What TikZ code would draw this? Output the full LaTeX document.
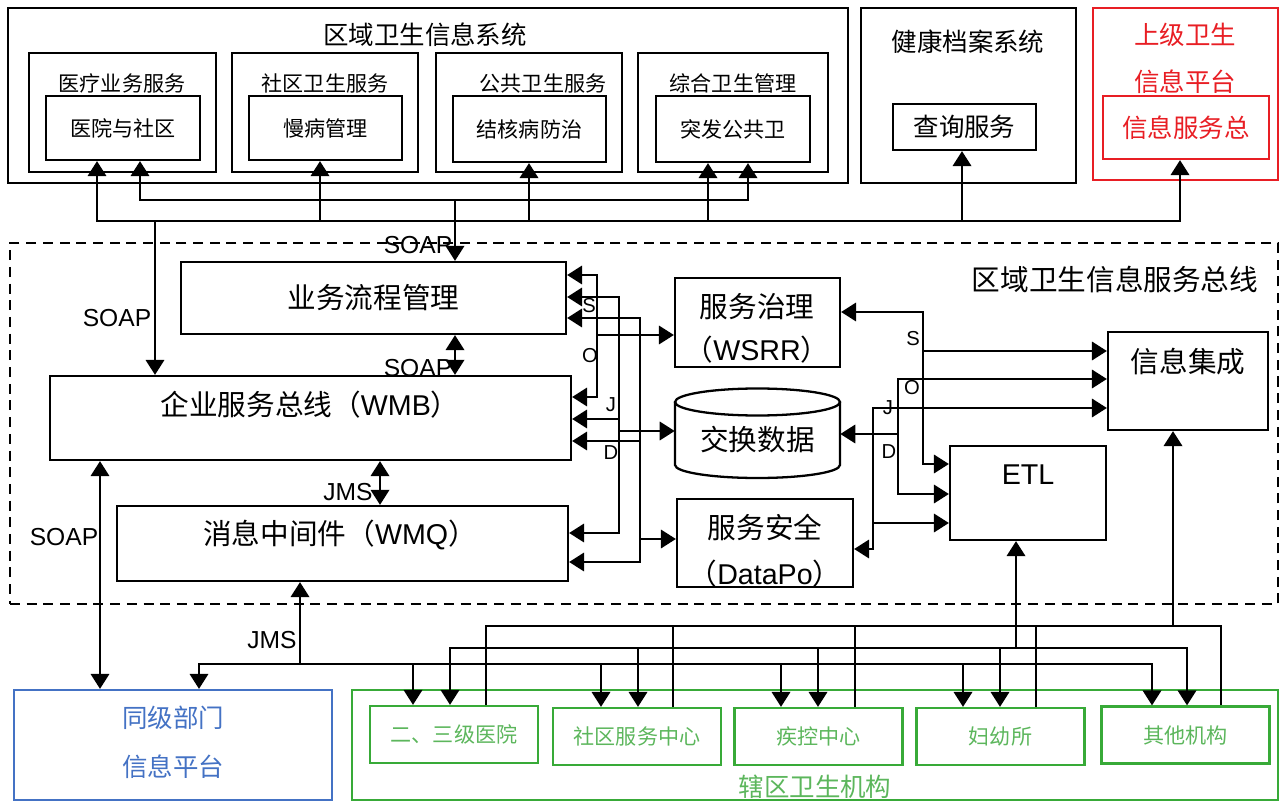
\documentclass[tikz,border=0pt]{standalone}
\usepackage{fontspec}
\setmainfont{Liberation Sans}
\newfontfamily\cjk{Noto Sans CJK SC}
\usepackage{tikz}
\usetikzlibrary{arrows.meta, positioning, calc}
\definecolor{UpperRed}{RGB}{232,30,36}
\definecolor{PeerBlue}{RGB}{68,114,196}
\definecolor{OrgGreen}{RGB}{56,170,56}
\definecolor{OrgText}{RGB}{92,182,92}
\tikzstyle{arrow} = [line width=1.2pt, -{Triangle[length=8.5pt,width=10.5pt]}]
\tikzstyle{twoway} = [line width=1.2pt, {Triangle[length=8.5pt,width=10.5pt]}-{Triangle[length=8.5pt,width=10.5pt]}]
\tikzstyle{wire} = [line width=1.2pt]
\tikzset{
  box/.style 2 args={draw, line width=1.3pt, rectangle, inner sep=0pt, minimum width=#1*0.02cm, minimum height=#2*0.02cm},
  txs/.style={font=\cjk\fontsize{12}{14}\selectfont},
  txm/.style={font=\cjk\fontsize{14.5}{17}\selectfont},
  txl/.style={font=\cjk\fontsize{16.3}{19}\selectfont},
  proto/.style={font=\fontsize{14}{16}\selectfont, inner sep=0pt},
  tag/.style={font=\fontsize{11.5}{13}\selectfont, inner sep=0pt}
}
\begin{document}
\begin{tikzpicture}[x=0.02cm, y=-0.02cm]
    \useasboundingbox (0,0) rectangle (1283,803);

    % Regional health information system
    \node[box={840}{175}] (regsys) at (428,95.5) {};
    \node[txm] (regsys-t) at (425,35) {区域卫生信息系统};
    \node[box={187}{119}] (med) at (122.5,112.5) {};
    \node[txs] (med-t) at (122,83) {医疗业务服务};
    \node[box={154}{64}, txs] (hosp) at (123,128) {医院与社区};
    \node[box={186}{119}] (comm) at (325,112.5) {};
    \node[txs] (comm-t) at (325,83) {社区卫生服务};
    \node[box={153}{64}, txs] (chron) at (325.5,128) {慢病管理};
    \node[box={186}{119}] (pub) at (529,112.5) {};
    \node[txs] (pub-t) at (543,83) {公共卫生服务};
    \node[box={153}{66}, txs] (tb) at (529.5,129) {结核病防治};
    \node[box={190}{119}] (gen) at (733,112.5) {};
    \node[txs] (gen-t) at (733,83) {综合卫生管理};
    \node[box={154}{66}, txs] (emerg) at (733,129) {突发公共卫};

    % Health record system and upper platform
    \node[box={215}{175}] (ehr) at (968.5,95.5) {};
    \node[txm] (ehr-t) at (968,42) {健康档案系统};
    \node[box={143}{46}, txm] (query) at (964.5,127) {查询服务};
    \node[box={185}{172}, draw=UpperRed] (upper) at (1185.5,94) {};
    \node[txm, text=UpperRed] (upper-t1) at (1185,35) {上级卫生};
    \node[txm, text=UpperRed] (upper-t2) at (1185,82) {信息平台};
    \node[box={166}{63}, draw=UpperRed, txm, text=UpperRed] (infobus) at (1186,127.5) {信息服务总};

    % Regional health information service bus
    \node[box={1268}{361}, line width=1.1pt, dash pattern=on 5.7pt off 3.8pt] (esb) at (644,423.5) {};
    \node[txl] (esb-t) at (1115,280) {区域卫生信息服务总线};
    \node[box={385}{72}, txl] (bpm) at (373.5,298) {业务流程管理};
    \node[box={521}{84}] (wmb) at (310.5,418) {};
    \node[txl] (wmb-t) at (310,405) {企业服务总线（{\rmfamily WMB}）};
    \node[box={451}{75}] (wmq) at (342.5,543.5) {};
    \node[txl] (wmq-t) at (340,535) {消息中间件（{\rmfamily WMQ}）};
    \node[box={165}{89}] (wsrr) at (757.5,322.5) {};
    \node[txl] (wsrr-t1) at (757,307) {服务治理};
    \node[txl] (wsrr-t2) at (757,350) {（{\rmfamily WSRR}）};
    \node[txl, inner sep=0pt, minimum width=3.3cm] (xdata) at (757.5,440) {交换数据};
    \draw[line width=1.3pt] (675,402) -- (675,465) arc[start angle=180, end angle=360, x radius=1.65cm, y radius=0.26cm] -- (840,402);
    \draw[line width=1.3pt] (757.5,402) ellipse[x radius=1.65cm, y radius=0.27cm];
    \node[box={176}{88}] (sec) at (765,543) {};
    \node[txl] (sec-t1) at (765,527) {服务安全};
    \node[txl] (sec-t2) at (765,574) {（{\rmfamily DataPo}）};
    \node[box={160}{98}] (integ) at (1188,381) {};
    \node[txl] (integ-t) at (1188,362) {信息集成};
    \node[box={156}{94}] (etl) at (1028,493) {};
    \node[font=\fontsize{16.3}{19}\selectfont] (etl-t) at (1028,475) {ETL};

    % Peer platform and local institutions
    \node[box={318}{110}, draw=PeerBlue] (peer) at (173,745) {};
    \node[txm, text=PeerBlue] (peer-t1) at (173,718) {同级部门};
    \node[txm, text=PeerBlue] (peer-t2) at (173,767) {信息平台};
    \node[box={926}{110}, draw=OrgGreen] (juris) at (815,745) {};
    \node[txm, text=OrgText] (juris-t) at (815,787) {辖区卫生机构};
    \foreach \n/\cx/\cy/\t in {h23/454/734.5/二、三级医院, csc/637/736.5/社区服务中心, cdc/818.5/736.5/疾控中心, mch/1000.5/736.5/妇幼所, other/1185.5/735/其他机构}
        \node[box={168}{57}, draw=OrgGreen, txs, text=OrgText] (\n) at (\cx,\cy) {\t};

    % Top buses to the systems
    \coordinate (busA-w) at (97,221);
    \coordinate (busA-e) at (1180,221);
    \draw[twoway] (busA-w |- hosp.south) -- (busA-w) -- (busA-e) -- (busA-e |- infobus.south);
    \foreach \x/\t in {320/chron, 529/tb, 708/emerg, 962/query} {
        \coordinate (p) at (\x,221);
        \draw[arrow] (p) -- (p |- \t.south);
    }
    \coordinate (busB-w) at (140,200);
    \coordinate (busB-e) at (748,200);
    \draw[twoway] (busB-w |- hosp.south) -- (busB-w) -- (busB-e) -- (busB-e |- emerg.south);
    \coordinate (soap-bpm) at (455,200);
    \draw[arrow] (soap-bpm) -- (soap-bpm |- bpm.north);
    \coordinate (soap-wmb) at (155,221);
    \draw[arrow] (soap-wmb) -- (soap-wmb |- wmb.north);

    % Links inside the bus
    \coordinate (bw) at (455,350);
    \draw[twoway] (bw |- bpm.south) -- (bw |- wmb.north);
    \coordinate (mq) at (380,480);
    \draw[twoway] (mq |- wmb.south) -- (mq |- wmq.north);
    \coordinate (pr) at (100,600);
    \draw[twoway] (pr |- wmb.south) -- (pr |- peer.north);

    % S / O / J / D bars on the left
    \coordinate (b1t) at (597,275); \coordinate (b1b) at (597,397); \coordinate (b1m) at (597,335);
    \draw[twoway] (bpm.east |- b1t) -- (b1t) -- (b1b) -- (wmb.east |- b1b);
    \draw[arrow] (b1m) -- (wsrr.west |- b1m);
    \coordinate (b2t) at (619,297); \coordinate (b2b) at (619,533); \coordinate (b2w) at (619,419); \coordinate (b2m) at (619,431);
    \draw[twoway] (bpm.east |- b2t) -- (b2t) -- (b2b) -- (wmq.east |- b2b);
    \draw[arrow] (b2w) -- (wmb.east |- b2w);
    \draw[arrow] (b2m) -- (xdata.west |- b2m);
    \coordinate (b3t) at (640,318); \coordinate (b3b) at (640,562); \coordinate (b3w) at (640,441); \coordinate (b3m) at (640,539);
    \draw[twoway] (bpm.east |- b3t) -- (b3t) -- (b3b) -- (wmq.east |- b3b);
    \draw[arrow] (b3w) -- (wmb.east |- b3w);
    \draw[arrow] (b3m) -- (sec.west |- b3m);
    \node[tag] (s-l) at (589,306) {S};
    \node[tag] (o-l) at (590,356) {O};
    \node[tag] (j-l) at (611,405) {J};
    \node[tag] (d-l) at (611,453) {D};

    % S / O / J / D bars on the right
    \coordinate (b4t) at (923,312); \coordinate (b4m) at (923,351); \coordinate (b4b) at (923,464);
    \draw[twoway] (wsrr.east |- b4t) -- (b4t) -- (b4b) -- (etl.west |- b4b);
    \draw[arrow] (b4m) -- (integ.west |- b4m);
    \coordinate (b5t) at (898,379); \coordinate (b5m) at (898,434); \coordinate (b5b) at (898,494);
    \draw[twoway] (integ.west |- b5t) -- (b5t) -- (b5b) -- (etl.west |- b5b);
    \draw[arrow] (b5m) -- (xdata.east |- b5m);
    \coordinate (b6t) at (873,408); \coordinate (b6m) at (873,523); \coordinate (b6b) at (873,549);
    \draw[twoway] (integ.west |- b6t) -- (b6t) -- (b6b) -- (sec.east |- b6b);
    \draw[arrow] (b6m) -- (etl.west |- b6m);
    \node[tag] (s-r) at (913,339) {S};
    \node[tag] (o-r) at (912,388) {O};
    \node[tag] (j-r) at (888,408) {J};
    \node[tag] (d-r) at (889,452) {D};

    % Bottom buses to the institutions
    \coordinate (busC-w) at (199,664);
    \coordinate (busC-e) at (1152,664);
    \draw[twoway] (busC-w |- peer.north) -- (busC-w) -- (busC-e) -- (busC-e |- other.north);
    \foreach \x/\t in {413/h23, 601/csc, 781/cdc, 963/mch} {
        \coordinate (p) at (\x,664);
        \draw[arrow] (p) -- (p |- \t.north);
    }
    \coordinate (jms-up) at (300,664);
    \draw[arrow] (jms-up) -- (jms-up |- wmq.south);
    \coordinate (busD-w) at (450,648);
    \coordinate (busD-e) at (1187,648);
    \draw[twoway] (busD-w |- h23.north) -- (busD-w) -- (busD-e) -- (busD-e |- other.north);
    \foreach \x/\t in {638/csc, 818/cdc, 1000/mch} {
        \coordinate (p) at (\x,648);
        \draw[arrow] (p) -- (p |- \t.north);
    }
    \coordinate (etl-up) at (1016,648);
    \draw[arrow] (etl-up) -- (etl-up |- etl.south);
    \coordinate (busE-w) at (486,626);
    \coordinate (busE-e) at (1221,626);
    \draw[wire] (busE-w |- h23.north) -- (busE-w) -- (busE-e) -- (busE-e |- other.north);
    \foreach \x/\t in {673/csc, 855/cdc, 1036/mch} {
        \coordinate (p) at (\x,626);
        \draw[wire] (p) -- (p |- \t.north);
    }
    \coordinate (integ-up) at (1173,626);
    \draw[arrow] (integ-up) -- (integ-up |- integ.south);

    % Protocol labels
    \node[proto] (soap1) at (418,245) {SOAP};
    \node[proto] (soap2) at (117,318) {SOAP};
    \node[proto] (soap3) at (418,368) {SOAP};
    \node[proto] (jms1) at (348,492) {JMS};
    \node[proto] (soap4) at (64,537) {SOAP};
    \node[proto] (jms2) at (272,640) {JMS};
\end{tikzpicture}
\end{document}
